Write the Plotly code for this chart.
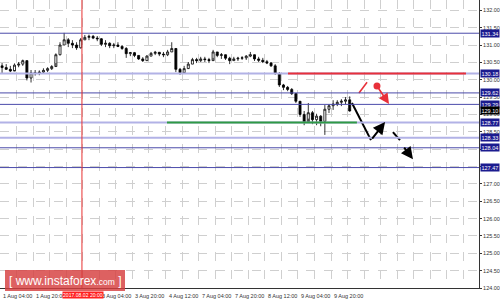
import plotly.graph_objects as go

# ---------------- data ----------------
bar_hours = list(range(1, 171, 2))  # 2-hour bars, trading-hour index from 1 Aug 04:00
high = [130.48, 130.45, 130.40, 130.47, 130.51, 130.58, 130.50, 130.28, 130.28, 130.27,
        130.33, 130.36, 130.42, 130.76, 131.08, 131.35, 131.20, 131.14, 131.08, 131.20,
        131.29, 131.30, 131.29, 131.26, 131.20, 131.14, 131.08, 131.06, 131.08, 131.00,
        130.94, 130.80, 130.80, 130.71, 130.65, 130.71, 130.80, 130.83, 130.80, 130.80,
        130.86, 131.08, 130.71, 130.34, 130.40, 130.51, 130.63, 130.63, 130.66, 130.66,
        130.63, 130.86, 130.80, 130.77, 130.71, 130.66, 130.66, 130.66, 130.68, 130.71,
        130.80, 130.68, 130.66, 130.63, 130.57, 130.51, 130.45, 130.22, 129.88, 129.82,
        129.76, 129.62, 129.36, 129.10, 129.33, 129.10, 129.02, 128.98, 129.27, 129.30,
        129.41, 129.41, 129.44, 129.50, 129.52]
low = [130.19, 130.28, 130.22, 130.28, 130.36, 130.40, 129.98, 129.92, 130.12, 130.13,
       130.19, 130.22, 130.28, 130.48, 130.70, 131.00, 130.94, 130.91, 130.86, 130.90,
       131.14, 131.14, 131.17, 131.11, 130.97, 130.94, 130.91, 130.91, 130.94, 130.86,
       130.63, 130.68, 130.65, 130.57, 130.51, 130.54, 130.68, 130.71, 130.68, 130.65,
       130.68, 130.80, 130.22, 130.14, 130.19, 130.34, 130.45, 130.48, 130.51, 130.51,
       130.48, 130.63, 130.65, 130.60, 130.57, 130.45, 130.54, 130.54, 130.57, 130.57,
       130.65, 130.54, 130.51, 130.48, 130.45, 130.37, 130.14, 129.79, 129.70, 129.67,
       129.56, 129.33, 128.93, 128.69, 128.88, 128.72, 128.69, 128.66, 128.41, 129.04,
       129.13, 129.24, 129.24, 129.30, 129.08]
close = [130.35, 130.30, 130.25, 130.42, 130.45, 130.55, 130.05, 130.20, 130.18, 130.22,
         130.27, 130.32, 130.38, 130.72, 131.00, 131.15, 131.05, 131.00, 130.92, 131.15,
         131.22, 131.25, 131.20, 131.18, 131.02, 131.05, 130.98, 131.00, 130.96, 130.90,
         130.75, 130.78, 130.70, 130.60, 130.55, 130.68, 130.76, 130.79, 130.74, 130.72,
         130.80, 130.90, 130.30, 130.20, 130.32, 130.45, 130.58, 130.55, 130.60, 130.58,
         130.55, 130.80, 130.70, 130.72, 130.62, 130.55, 130.60, 130.62, 130.63, 130.68,
         130.72, 130.60, 130.56, 130.52, 130.48, 130.40, 130.18, 129.85, 129.78, 129.72,
         129.60, 129.38, 129.00, 128.78, 129.05, 128.85, 128.95, 128.80, 129.15, 129.25,
         129.30, 129.35, 129.38, 129.42, 129.10]
open_ = [130.40] + close[:-1]

# "2 Aug 12:00" (hour 32) sits under the red cursor label in the reference
tick_hours = [0, 16, 48, 64, 80, 96, 112, 128, 144, 160]
tick_text = ["1 Aug 04:00", "1 Aug 20:00", "3 Aug 04:00", "3 Aug 20:00",
             "4 Aug 12:00", "7 Aug 04:00", "7 Aug 20:00", "8 Aug 12:00", "9 Aug 04:00",
             "9 Aug 20:00"]
grid_hours = list(range(0, 232, 8))

y_ticks = [124 + 0.5 * k for k in range(17)]
hidden_y_ticks = [127.5, 128.0]  # covered by level labels in the reference
dark_levels = [131.34, 129.62, 129.29, 128.04, 127.47]
light_levels = [130.18, 128.77, 128.33]
bid_price = 129.10

resistance = 130.18
resistance_span = [139.2, 225.2]
support = 128.77
support_span = [80.7, 172.5]
cursor_hour = 39.6
cursor_label = "2017.08.02 20:00"

# forecast sketch
red_seg_h = [173.5, 177.4]
red_seg_v = [129.62, 129.93]
red_dot_h = [182.2]
red_dot_v = [129.82]
red_arrow_end = [188.0, 129.30]
black_path_h = [170.1, 179.3]
black_path_v = [129.33, 128.26]
black_arrow_end = [186.1, 128.78]
dash_h = [189.9, 193.3]
dash_v = [128.49, 128.26]
dash_arrow_start = [194.8, 128.09]
dash_arrow_end = [199.6, 127.71]

FONT = "Liberation Sans"
DARK = "#4b4baa"
LIGHT = "#b2b2e6"
NAVY = "#1b1b8f"

fig = go.Figure()

fig.add_trace(go.Candlestick(
    x=bar_hours, open=open_, high=high, low=low, close=close,
    increasing=dict(line=dict(color="black", width=0.8), fillcolor="white"),
    decreasing=dict(line=dict(color="black", width=0.8), fillcolor="black"),
    whiskerwidth=0, hoverinfo="skip"))

shapes = []
for lv in light_levels:
    shapes.append(dict(type="line", xref="paper", x0=0, x1=1, yref="y", y0=lv, y1=lv,
                       line=dict(color=LIGHT, width=2), layer="above"))
for lv in dark_levels:
    shapes.append(dict(type="line", xref="paper", x0=0, x1=1, yref="y", y0=lv, y1=lv,
                       line=dict(color=DARK, width=1), layer="above"))
shapes.append(dict(type="line", xref="x", x0=resistance_span[0], x1=resistance_span[1],
                   yref="y", y0=resistance, y1=resistance,
                   line=dict(color="#e8303a", width=2), layer="above"))
shapes.append(dict(type="line", xref="x", x0=support_span[0], x1=support_span[1],
                   yref="y", y0=support, y1=support,
                   line=dict(color="#2f9a45", width=2), layer="above"))
shapes.append(dict(type="line", xref="x", x0=cursor_hour, x1=cursor_hour,
                   yref="paper", y0=0, y1=1,
                   line=dict(color="#e83030", width=1), layer="above"))
# watermark box
shapes.append(dict(type="rect", xref="paper", yref="paper",
                   x0=5 / 479, x1=125 / 479, y0=-3 / 288, y1=18 / 288,
                   fillcolor="rgba(214,62,62,0.82)", line=dict(width=0), layer="above"))

fig.add_trace(go.Scatter(x=red_seg_h, y=red_seg_v, mode="lines",
                         line=dict(color="#e8303a", width=1.6), hoverinfo="skip"))
fig.add_trace(go.Scatter(x=red_dot_h, y=red_dot_v, mode="markers",
                         marker=dict(color="#e8303a", size=7), hoverinfo="skip"))
fig.add_trace(go.Scatter(x=black_path_h, y=black_path_v, mode="lines",
                         line=dict(color="black", width=2), hoverinfo="skip"))
fig.add_trace(go.Scatter(x=dash_h, y=dash_v, mode="lines",
                         line=dict(color="black", width=2), hoverinfo="skip"))

ann = []
# arrows
ann.append(dict(x=red_arrow_end[0], y=red_arrow_end[1], ax=red_dot_h[0], ay=red_dot_v[0],
                xref="x", yref="y", axref="x", ayref="y", text="", showarrow=True,
                arrowhead=2, arrowsize=1.3, arrowwidth=1.6, arrowcolor="#e8303a"))
ann.append(dict(x=black_arrow_end[0], y=black_arrow_end[1], ax=black_path_h[1], ay=black_path_v[1],
                xref="x", yref="y", axref="x", ayref="y", text="", showarrow=True,
                arrowhead=2, arrowsize=1.2, arrowwidth=2, arrowcolor="black"))
ann.append(dict(x=dash_arrow_end[0], y=dash_arrow_end[1], ax=dash_arrow_start[0], ay=dash_arrow_start[1],
                xref="x", yref="y", axref="x", ayref="y", text="", showarrow=True,
                arrowhead=2, arrowsize=1.2, arrowwidth=2, arrowcolor="black"))

# x tick labels (MT4 style, to the right of the tick)
for h, t in zip(tick_hours, tick_text):
    ann.append(dict(x=h, y=0, xref="x", yref="paper", xanchor="left", yanchor="top",
                    xshift=1, yshift=-3, text=t, showarrow=False,
                    font=dict(family=FONT, size=5.5, color="#333333")))
ann.append(dict(x=cursor_hour, y=0, xref="x", yref="paper", xanchor="center", yanchor="top",
                xshift=1, yshift=-3, text=cursor_label, showarrow=False, bgcolor="#ff2020",
                borderpad=0, font=dict(family=FONT, size=5.1, color="white")))

# level labels on price axis
for lv in dark_levels + light_levels:
    ann.append(dict(x=1, y=lv, xref="paper", yref="y", xanchor="left", yanchor="middle",
                    xshift=1, text=f"{lv:.2f}", showarrow=False, bgcolor=NAVY, borderpad=0.5,
                    font=dict(family=FONT, size=5.5, color="white")))
ann.append(dict(x=1, y=bid_price, xref="paper", yref="y", xanchor="left", yanchor="middle",
                xshift=1, text=f"{bid_price:.2f}", showarrow=False, bgcolor="black", borderpad=0.5,
                font=dict(family=FONT, size=5.5, color="white")))

# watermark text
ann.append(dict(x=65 / 479, y=7.5 / 288, xref="paper", yref="paper", xanchor="center",
                yanchor="middle", showarrow=False,
                text="[ www.instaforex<span style='font-size:8.5px'>.com</span> ]",
                font=dict(family=FONT, size=12, color="white")))

fig.update_layout(
    width=500, height=301,
    margin=dict(l=0, r=21, t=0, b=13),
    paper_bgcolor="white", plot_bgcolor="white",
    showlegend=False,
    shapes=shapes, annotations=ann,
    xaxis=dict(range=[0, 231.5], tickvals=grid_hours, showticklabels=False, ticks="",
               showgrid=True, gridcolor="#cfcfcf", griddash="dash", gridwidth=1,
               showline=True, linecolor="#333333", linewidth=1, zeroline=False,
               rangeslider=dict(visible=False), fixedrange=True),
    yaxis=dict(side="right", range=[124, 132.297], tickvals=y_ticks,
               ticktext=["" if v in hidden_y_ticks else f"{v:.2f}" for v in y_ticks],
               tickfont=dict(family=FONT, size=5.5, color="#333333"),
               ticks="outside", ticklen=2, tickcolor="#333333",
               showgrid=True, gridcolor="#cfcfcf", griddash="dash", gridwidth=1,
               showline=True, linecolor="#333333", linewidth=1, zeroline=False),
)

fig.write_html("out.html")
